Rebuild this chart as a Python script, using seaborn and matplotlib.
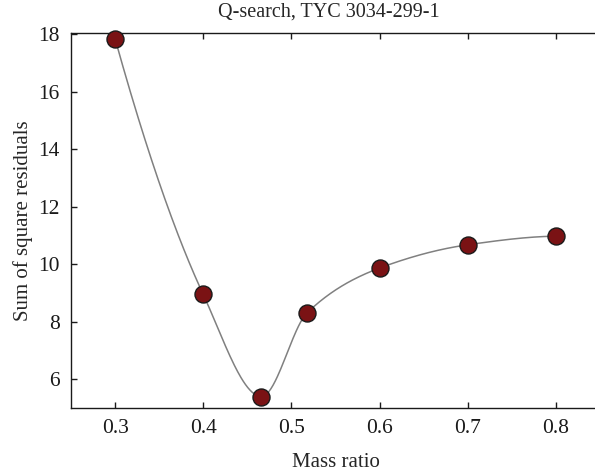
import numpy as np
import pandas as pd
import matplotlib
matplotlib.use("Agg")
import matplotlib.pyplot as plt
import seaborn as sns

mass_ratio = [0.3, 0.4, 0.466, 0.518, 0.6, 0.7, 0.8]
ssr = [17.85, 8.95, 5.40, 8.32, 9.87, 10.68, 10.98]
xticks = [0.3, 0.4, 0.5, 0.6, 0.7, 0.8]
yticks = [6, 8, 10, 12, 14, 16, 18]
title = "Q-search, TYC 3034-299-1"
xlabel = "Mass ratio"
ylabel = "Sum of square residuals"


def pchip(x, y, xs):
    x = np.asarray(x, float); y = np.asarray(y, float)
    h = np.diff(x)
    delta = np.diff(y) / h
    n = len(x)
    d = np.zeros(n)
    for k in range(1, n - 1):
        if delta[k - 1] * delta[k] > 0:
            w1 = 2 * h[k] + h[k - 1]
            w2 = h[k] + 2 * h[k - 1]
            d[k] = (w1 + w2) / (w1 / delta[k - 1] + w2 / delta[k])
    def end(h0, h1, d0, d1):
        dd = ((2 * h0 + h1) * d0 - h0 * d1) / (h0 + h1)
        if np.sign(dd) != np.sign(d0):
            dd = 0.0
        elif np.sign(d0) != np.sign(d1) and abs(dd) > abs(3 * d0):
            dd = 3 * d0
        return dd
    d[0] = end(h[0], h[1], delta[0], delta[1])
    d[-1] = end(h[-1], h[-2], delta[-1], delta[-2])
    out = np.empty_like(xs)
    for k, xv in enumerate(xs):
        i = min(max(np.searchsorted(x, xv) - 1, 0), n - 2)
        t = (xv - x[i]) / h[i]
        h00 = 2 * t**3 - 3 * t**2 + 1
        h10 = t**3 - 2 * t**2 + t
        h01 = -2 * t**3 + 3 * t**2
        h11 = t**3 - t**2
        out[k] = h00 * y[i] + h10 * h[i] * d[i] + h01 * y[i + 1] + h11 * h[i] * d[i + 1]
    return out


sns.set_theme(style="ticks")
plt.rcParams["font.family"] = ["Liberation Serif", "DejaVu Serif"]

fig = plt.figure(figsize=(5.95, 4.76), dpi=100)
W, H = 595, 476
ax = fig.add_axes([71 / W, (H - 408) / H, (600 - 71) / W, (408 - 33) / H])

xs = np.linspace(mass_ratio[0], mass_ratio[-1], 400)
curve = pd.DataFrame({"x": xs, "y": pchip(mass_ratio, ssr, xs)})
pts = pd.DataFrame({"x": mass_ratio, "y": ssr})

sns.lineplot(data=curve, x="x", y="y", ax=ax, color="#808080", lw=1.1, zorder=2)
sns.scatterplot(data=pts, x="x", y="y", ax=ax, s=150, color="#7a1214",
                edgecolor="#1a1a1a", linewidth=1.0, zorder=3, clip_on=False)

ax.set_xlim(0.25, 0.85)
ax.set_ylim(5, 18.05)
ax.set_xticks(xticks)
ax.set_xticklabels([f"{v:.1f}" for v in xticks])
ax.set_yticks(yticks)
ax.set_yticklabels([str(v) for v in yticks])
ax.tick_params(direction="in", length=4, width=1, top=True, right=False,
               labelsize=15.5, colors="#1a1a1a", pad=8)
for s in ["left", "bottom", "top"]:
    ax.spines[s].set_linewidth(1.0)
    ax.spines[s].set_color("#1a1a1a")
ax.spines["right"].set_visible(False)

ax.set_xlabel(xlabel, fontsize=15, labelpad=11)
ax.set_ylabel(ylabel, fontsize=15, labelpad=4)
fig.text(329 / W, 1 - 12 / H, title, ha="center", va="center", fontsize=14.5)

fig.savefig("out.png", dpi=100)
